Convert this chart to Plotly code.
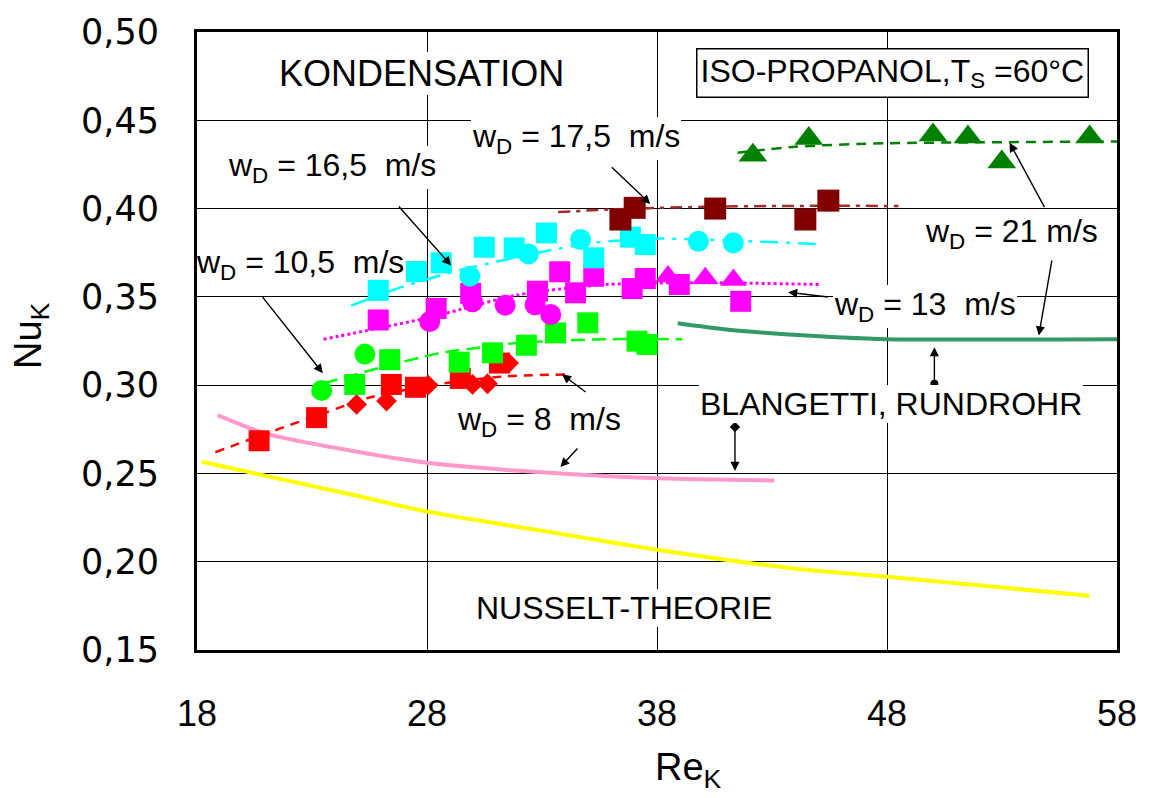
import plotly.graph_objects as go

# ---- measured points: Re_K / Nu_K per vapour velocity w_D ----
# w_D = 8 m/s (red)
re_8_sq = [20.7, 23.2, 26.45, 27.5, 29.45, 31.15]
nu_8_sq = [0.2685, 0.2816, 0.3004, 0.2988, 0.3038, 0.3125]
re_8_di = [24.94, 26.24, 28.05, 29.98, 30.63, 31.55]
nu_8_di = [0.2891, 0.2910, 0.3000, 0.3004, 0.3008, 0.3125]
re_8_fit = [18.8, 21.3, 23.5, 25.5, 28.5, 31.4, 34.0]
nu_8_fit = [0.262, 0.274, 0.284, 0.293, 0.3005, 0.305, 0.306]

# w_D = 10,5 m/s (green)
re_105_ci = [23.42, 25.3]
nu_105_ci = [0.297, 0.3176]
re_105_sq = [24.86, 26.38, 29.4, 30.85, 32.32, 33.59, 34.99, 37.13, 37.57]
nu_105_sq = [0.3004, 0.3144, 0.313, 0.3183, 0.3226, 0.3296, 0.3353, 0.3249, 0.323]
re_105_fit = [23.5, 26.0, 28.5, 30.7, 32.0, 35.8, 39.1]
nu_105_fit = [0.301, 0.310, 0.318, 0.322, 0.324, 0.326, 0.326]

# w_D = 13 m/s (magenta)
re_13_ci = [28.12, 29.98, 31.4, 32.7, 33.38]
nu_13_ci = [0.336, 0.3472, 0.3453, 0.3455, 0.340]
re_13_sq = [25.88, 28.4, 29.9, 32.8, 33.77, 34.46, 35.25, 36.92, 37.49, 38.97, 41.64]
nu_13_sq = [0.3369, 0.3434, 0.352, 0.3532, 0.3642, 0.3523, 0.3617, 0.3547, 0.3604, 0.357, 0.3475]
re_13_tr = [38.48, 40.1, 41.32]
nu_13_tr = [0.3615, 0.3605, 0.3595]
re_13_fit = [23.5, 25.8, 27.8, 29.5, 31.9, 35.8, 40.0, 45.1]
nu_13_fit = [0.326, 0.332, 0.3375, 0.343, 0.351, 0.357, 0.358, 0.357]

# w_D = 16,5 m/s (cyan)
re_165_ci = [29.86, 32.41, 34.68, 39.8, 41.32]
nu_165_ci = [0.3617, 0.3743, 0.3825, 0.3815, 0.3806]
re_165_sq = [25.88, 27.54, 28.62, 30.49, 31.79, 33.19, 35.25, 36.84, 37.49]
nu_165_sq = [0.3537, 0.3644, 0.3693, 0.3781, 0.3777, 0.3862, 0.3721, 0.3838, 0.3796]
re_165_fit = [24.7, 27.0, 29.1, 30.7, 33.6, 35.5, 38.0, 41.0, 44.9]
nu_165_fit = [0.345, 0.356, 0.364, 0.369, 0.377, 0.381, 0.383, 0.382, 0.380]

# w_D = 17,5 m/s (dark red)
re_175_sq = [36.41, 37.03, 40.53, 44.45, 45.45]
nu_175_sq = [0.3938, 0.4004, 0.400, 0.3938, 0.4045]
re_175_fit = [33.7, 36.0, 40.0, 44.0, 48.5]
nu_175_fit = [0.398, 0.3995, 0.401, 0.4015, 0.4015]

# w_D = 21 m/s (dark green)
re_21_tr = [42.17, 44.6, 50.0, 51.52, 52.99, 56.81]
nu_21_tr = [0.4302, 0.4397, 0.4416, 0.4406, 0.4264, 0.4406]
re_21_fit = [41.5, 44.0, 48.0, 52.0, 58.0]
nu_21_fit = [0.4316, 0.435, 0.437, 0.4375, 0.438]

# Blangetti (round tube) correlations
re_bl_21 = [38.9, 41.0, 43.4, 46.0, 48.0, 58.0]
nu_bl_21 = [0.335, 0.3315, 0.329, 0.327, 0.326, 0.326]
re_bl_8 = [18.9, 21.0, 24.0, 28.0, 32.0, 38.0, 43.1]
nu_bl_8 = [0.283, 0.2725, 0.2645, 0.256, 0.2515, 0.2472, 0.246]

# Nusselt film theory
re_nus = [18.2, 24.8, 28.0, 33.0, 38.0, 43.75, 48.0, 56.8]
nu_nus = [0.2566, 0.2378, 0.2284, 0.2175, 0.2068, 0.1965, 0.1915, 0.1807]

# axis ticks
x_ticks = [18, 28, 38, 48, 58]
x_ticktext = ["18", "28", "38", "48", "58"]
y_ticks = [0.15, 0.20, 0.25, 0.30, 0.35, 0.40, 0.45, 0.50]
y_ticktext = ["0,15", "0,20", "0,25", "0,30", "0,35", "0,40", "0,45", "0,50"]

FONT = "Liberation Sans, Arial, sans-serif"

fig = go.Figure()


def curve(x, y, color, width, dash):
    fig.add_trace(go.Scatter(x=x, y=y, mode="lines", hoverinfo="skip",
                             line=dict(color=color, width=width, dash=dash,
                                       shape="spline", smoothing=0.8)))


def points(x, y, color, symbol, size):
    fig.add_trace(go.Scatter(x=x, y=y, mode="markers",
                             marker=dict(color=color, symbol=symbol, size=size,
                                         line=dict(width=0))))


# theory / correlation curves
curve(re_nus, nu_nus, "#FFFF00", 4, "solid")
curve(re_bl_8, nu_bl_8, "#FF99CC", 4, "solid")
curve(re_bl_21, nu_bl_21, "#339966", 4, "solid")

# regression curves of the measurements
curve(re_8_fit, nu_8_fit, "#FF0000", 2.5, "9px,7px")
curve(re_105_fit, nu_105_fit, "#00FF00", 2.5, "14px,7px")
curve(re_13_fit, nu_13_fit, "#FF00FF", 3, "dot")
curve(re_165_fit, nu_165_fit, "#00FFFF", 2.5, "18px,8px,4px,8px")
curve(re_175_fit, nu_175_fit, "#A52A2A", 2.5, "12px,6px,4px,6px")
curve(re_21_fit, nu_21_fit, "#008000", 2.5, "10px,7px")

# measured points
points(re_8_sq, nu_8_sq, "#FF0000", "square", 21)
points(re_8_di, nu_8_di, "#FF0000", "diamond", 16)
points(re_105_sq, nu_105_sq, "#00FF00", "square", 21)
points(re_105_ci, nu_105_ci, "#00FF00", "circle", 21)
points(re_13_sq, nu_13_sq, "#FF00FF", "square", 21)
points(re_13_ci, nu_13_ci, "#FF00FF", "circle", 21)
points(re_13_tr, nu_13_tr, "#FF00FF", "triangle-up", 23)
points(re_165_sq, nu_165_sq, "#00FFFF", "square", 21)
points(re_165_ci, nu_165_ci, "#00FFFF", "circle", 21)
points(re_175_sq, nu_175_sq, "#800000", "square", 22)
points(re_21_tr, nu_21_tr, "#008000", "triangle-up", 25)

# tail markers of the Blangetti pointers
fig.add_trace(go.Scatter(x=[50.06], y=[0.3008], mode="markers",
                         marker=dict(color="black", symbol="circle", size=8)))
fig.add_trace(go.Scatter(x=[41.39], y=[0.2763], mode="markers",
                         marker=dict(color="black", symbol="diamond", size=8)))

annotations = []


def label(x, y, text, size=32, box=False, bg=True):
    annotations.append(dict(
        x=x, y=y, xref="x", yref="y", text=text, showarrow=False,
        font=dict(family=FONT, size=size, color="black"),
        bgcolor="white" if bg else "rgba(0,0,0,0)", borderpad=3 if box else 1,
        bordercolor="black" if box else "rgba(0,0,0,0)",
        borderwidth=1.5 if box else 0,
        xanchor="center", yanchor="middle"))


def pointer(x0, y0, x1, y1):
    annotations.append(dict(
        x=x1, y=y1, ax=x0, ay=y0, xref="x", yref="y", axref="x", ayref="y",
        text="", showarrow=True, arrowhead=2, arrowsize=1.3, arrowwidth=1.4,
        arrowcolor="black", standoff=0, startstandoff=0))


wd = "w<sub>D</sub>"
label(27.77, 0.4765, "KONDENSATION", size=36)
label(48.25, 0.4768, "ISO-PROPANOL,T<sub>S</sub> =60°C", size=32, box=True)
label(34.49, 0.4395, wd + " = 17,5  m/s")
label(23.85, 0.4231, wd + " = 16,5  m/s")
label(22.46, 0.3685, wd + " = 10,5  m/s", bg=False)
label(32.86, 0.2795, wd + " = 8  m/s")
label(53.41, 0.3857, wd + " = 21 m/s")
label(49.64, 0.3445, wd + " = 13  m/s")
label(48.16, 0.2891, "BLANGETTI, RUNDROHR")
label(36.55, 0.1737, "NUSSELT-THEORIE")

pointer(35.97, 0.4242, 37.71, 0.4026)
pointer(26.72, 0.4020, 29.05, 0.3677)
pointer(20.80, 0.3507, 23.47, 0.3068)
pointer(34.96, 0.2955, 33.87, 0.3061)
pointer(34.60, 0.2650, 33.80, 0.2536)
pointer(54.88, 0.4000, 53.33, 0.4373)
pointer(55.18, 0.3715, 54.60, 0.3281)
pointer(45.50, 0.3498, 43.70, 0.3526)
pointer(50.06, 0.3008, 50.06, 0.3215)
pointer(41.39, 0.2763, 41.39, 0.2514)

# axis titles
annotations.append(dict(x=(690 - 197) / 923, y=-(770 - 650) / 619, xref="paper", yref="paper",
                        text="Re<sub>K</sub>", showarrow=False,
                        font=dict(family=FONT, size=38, color="black"),
                        xanchor="center", yanchor="middle"))
annotations.append(dict(x=-(197 - 30) / 923, y=(650 - 335) / 619, xref="paper", yref="paper",
                        text="Nu<sub>K</sub>", showarrow=False, textangle=-90,
                        font=dict(family=FONT, size=38, color="black"),
                        xanchor="center", yanchor="middle"))

fig.update_layout(
    width=1149, height=798,
    margin=dict(l=197, r=29, t=31, b=148),
    paper_bgcolor="white", plot_bgcolor="white",
    showlegend=False,
    annotations=annotations,
    xaxis=dict(range=[18, 58], tickvals=x_ticks, ticktext=x_ticktext,
               showgrid=True, gridcolor="black", gridwidth=1,
               showline=True, linecolor="black", linewidth=3, mirror=True,
               zeroline=False, ticks="", ticklabelstandoff=30,
               tickfont=dict(family=FONT, size=36, color="black")),
    yaxis=dict(range=[0.15, 0.50], tickvals=y_ticks, ticktext=y_ticktext,
               showgrid=True, gridcolor="black", gridwidth=1,
               showline=True, linecolor="black", linewidth=3, mirror=True,
               zeroline=False, ticks="", ticklabelstandoff=28,
               tickfont=dict(family="DejaVu Sans, Verdana, sans-serif", size=35,
                             color="black")),
)

fig.write_html("out.html")
